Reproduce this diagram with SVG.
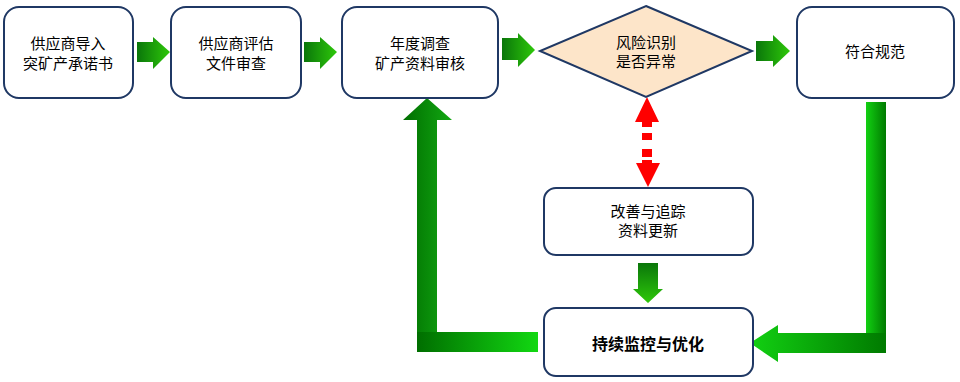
<svg xmlns="http://www.w3.org/2000/svg" width="960" height="382" viewBox="0 0 960 382">
<defs>
<linearGradient id="gR" x1="0" y1="0" x2="1" y2="0"><stop offset="0" stop-color="#0a760a"/><stop offset="1" stop-color="#2ec80a"/></linearGradient>
<linearGradient id="gD" x1="0" y1="0" x2="0" y2="1"><stop offset="0" stop-color="#0a760a"/><stop offset="1" stop-color="#2ec80a"/></linearGradient>
<linearGradient id="gV1" x1="0" y1="0" x2="1" y2="0"><stop offset="0" stop-color="#12d012"/><stop offset="1" stop-color="#007a00"/></linearGradient>
<linearGradient id="gH1" x1="0" y1="0" x2="1" y2="0"><stop offset="0" stop-color="#12d012"/><stop offset="1" stop-color="#007a00"/></linearGradient>
<linearGradient id="gV2" x1="0" y1="0" x2="1" y2="0"><stop offset="0" stop-color="#006e00"/><stop offset="1" stop-color="#12a812"/></linearGradient>
<linearGradient id="gH2" x1="0" y1="0" x2="1" y2="0"><stop offset="0" stop-color="#006e00"/><stop offset="1" stop-color="#12d812"/></linearGradient>
</defs>
<style>
.box{fill:#fff;stroke:#1f3864;stroke-width:2}
.dia{fill:#fde5c9;stroke:#1f3864;stroke-width:2}
text{font-family:"Noto Sans CJK SC","Noto Sans",sans-serif;font-size:15px;fill:#000;text-anchor:middle}
.b{font-weight:bold;font-size:16px}
</style>
<g id="connectors">
<polygon fill="url(#gR)" points="137,42 153,42 153,37 170,52 153,69 153,62 137,62"/>
<polygon fill="url(#gR)" points="304,42 320,42 320,37 337,52 320,69 320,62 304,62"/>
<polygon fill="url(#gR)" points="502,38 518,38 518,33 535,50 518,67 518,60 502,60"/>
<polygon fill="url(#gR)" points="756,41 773,41 773,35 790,51 773,67 773,61 756,61"/>
<rect x="866" y="102" width="20" height="251" fill="url(#gV1)"/>
<polygon fill="url(#gH1)" points="886,333 778,333 778,325 750,343 778,362 778,353 886,353"/>
<rect x="417" y="332" width="121" height="20" fill="url(#gH2)"/>
<polygon fill="url(#gV2)" points="417,332 417,120 403,120 427,98 452,120 437,120 437,332"/>
<polygon fill="url(#gD)" points="638,263 658,263 658,289 663,289 648,303 633,289 638,289"/>
<g fill="#ff0000">
<polygon points="647,97 659,122 652,122 652,127 642,127 642,122 635,122"/>
<rect x="642" y="133" width="10" height="7"/>
<rect x="642" y="149" width="10" height="8"/>
<polygon points="642,160 652,160 652,163 660,163 648,187 636,163 642,163"/>
</g>
</g>
<g id="n1"><rect class="box" x="4" y="7" width="129" height="91" rx="15"/><text x="68" y="49">供应商导入</text><text x="68" y="69">突矿产承诺书</text></g>
<g id="n2"><rect class="box" x="171" y="7" width="130" height="91" rx="15"/><text x="236" y="49">供应商评估</text><text x="236" y="69">文件审查</text></g>
<g id="n3"><rect class="box" x="342" y="7" width="156" height="91" rx="15"/><text x="420" y="49">年度调查</text><text x="420" y="69">矿产资料审核</text></g>
<g id="n4"><polygon class="dia" points="646,6 752,51 646,97 540,51"/><text x="646" y="48">风险识别</text><text x="646" y="67">是否异常</text></g>
<g id="n5"><rect class="box" x="797" y="7" width="157" height="91" rx="15"/><text x="875" y="57">符合规范</text></g>
<g id="n6"><rect class="box" x="544" y="188" width="209" height="67" rx="12"/><text x="648" y="217">改善与追踪</text><text x="648" y="236">资料更新</text></g>
<g id="n7"><rect class="box" x="544" y="308" width="209" height="68" rx="12"/><text class="b" x="648" y="350">持续监控与优化</text></g>
</svg>
